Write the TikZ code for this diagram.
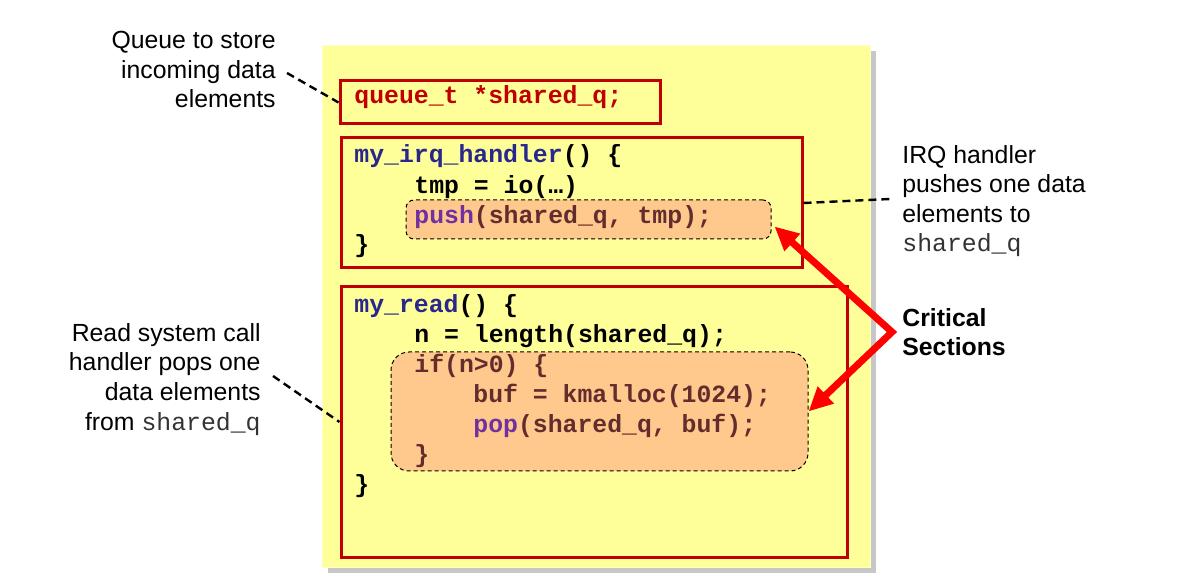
\documentclass[tikz,border=0pt]{standalone}
\usepackage{fontspec}
\setmainfont{Liberation Sans}
\newfontfamily\codefont{Liberation Mono}
\usetikzlibrary{arrows.meta,positioning,fit,calc}
\definecolor{paneyellow}{RGB}{255,255,153}
\definecolor{boxred}{RGB}{192,0,0}
\definecolor{critorange}{RGB}{255,200,140}
\definecolor{codeblue}{RGB}{40,40,140}
\definecolor{codepurple}{RGB}{112,48,160}
\definecolor{codebrown}{RGB}{100,45,45}
\definecolor{arrowred}{RGB}{255,0,0}

\begin{document}
\begin{tikzpicture}[x=0.5pt,y=-0.5pt,
  redbox/.style={draw=boxred, line width=1.5pt, inner sep=0pt},
  critbox/.style={draw, dash pattern=on 2pt off 1.5pt, line width=0.5pt, fill=critorange, inner sep=0pt},
  codeline/.style={anchor=base west, inner sep=0pt, font=\codefont\bfseries\fontsize{12.4}{14.5}\selectfont},
  note/.style={inner sep=0pt, font=\fontsize{12.4}{14.8}\selectfont},
  leader/.style={dash pattern=on 4pt off 2.5pt, line width=1.2pt},
  critarrow/.style={draw=arrowred, line width=3.5pt, {Triangle[length=12pt,width=11pt]}-{Triangle[length=12pt,width=11pt]}}]
			\useasboundingbox (0,0) rectangle (1194,582);
			
			% yellow code panel with its shadow
			\fill[black!22] (328,51) rectangle (876,573);
			\node[fill=paneyellow, draw=paneyellow!60!white, inner sep=0pt, fit={(322,45) (870,567)}] (panel) {};
			
			\node[redbox, fit={(340,81) (660,124)}] (qbox) {};
			\node[redbox, fit={(341,138) (802,268)}] (irqbox) {};
			\node[redbox, fit={(341,287) (847,557)}] (readbox) {};
			\node[critbox, rounded corners=4pt, fit={(406,200) (771,239)}] (pushbox) {};
			\node[critbox, rounded corners=9pt, fit={(391,352) (808,471)}] (ifbox) {};
			
			% code
			\node[codeline, text=boxred] (qdecl) at (354,104) {queue\_t *shared\_q;};
			\node[codeline] (irqhead) at (354,163) {\textcolor{codeblue}{my\_irq\_handler}() \{};
			\node[codeline] (tmpline) at (414,194) {tmp = io(…)};
			\node[codeline, text=codebrown] (pushline) at (414,224) {\textcolor{codepurple}{push}(shared\_q, tmp);};
			\node[codeline] (irqend) at (354,253) {\}};
			\node[codeline] (readhead) at (354,313) {\textcolor{codeblue}{my\_read}() \{};
			\node[codeline] (lenline) at (414,343) {n = length(shared\_q);};
			\node[codeline, text=codebrown] (ifline) at (414,373) {if(n>0) \{};
			\node[codeline, text=codebrown] (bufline) at (473,403) {buf = kmalloc(1024);};
			\node[codeline, text=codebrown] (popline) at (473,433) {\textcolor{codepurple}{pop}(shared\_q, buf);};
			\node[codeline, text=codebrown] (ifend) at (414,463) {\}};
			\node[codeline] (readend) at (354,493) {\}};
			
			% notes (base = last line)
			\node[note, anchor=base east, align=right] (qnote) at (276,108) {Queue to store\\incoming data\\elements};
			\node[note, anchor=base east, align=right] (readnote) at (261,430) {Read system call\\handler pops one\\data elements\\from {\codefont\color{black!80}shared\_q}};
			\node[note, anchor=base west, align=left] (irqnote) at (902,252) {IRQ handler\\pushes one data\\elements to\\{\codefont\color{black!80}shared\_q}};
			\node[note, anchor=base west, align=left, font=\fontsize{12.4}{14.5}\selectfont\bfseries] (critnote) at (902,356) {Critical\\Sections};
			
			\coordinate (qtail) at (287,73);
			\coordinate (readtail) at (273,376);
			\coordinate (irqtail) at (890,199);
			\draw[leader] (qtail) -- (qbox.west);
			\draw[leader] (readtail) -- (readbox.west);
			\draw[leader] (irqbox.east) -- (irqtail);
			
			% critical section arrows
			\coordinate (critjoin) at (892,332);
			\coordinate (pushtip) at ($(pushbox.east)+(3,7)$);
			\draw[critarrow] (pushtip) -- (critjoin) -- (ifbox.east);
		\end{tikzpicture}
\end{document}
